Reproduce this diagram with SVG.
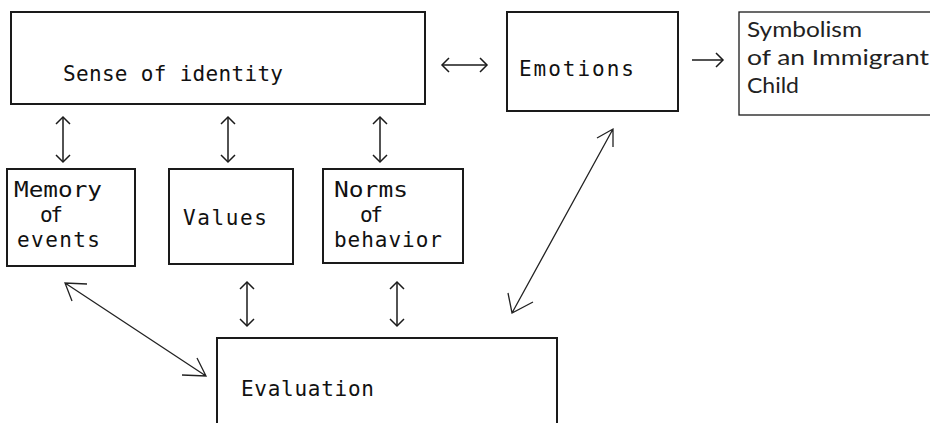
<svg xmlns="http://www.w3.org/2000/svg" width="930" height="423" viewBox="0 0 930 423">
<defs>
<style>
.box{fill:#fff;stroke:#1a1a1a;stroke-width:2}
.thin{fill:#fff;stroke:#1a1a1a;stroke-width:1.3}
.t{font-family:"DejaVu Sans Mono","Liberation Mono",monospace;font-size:21px;fill:#111}
.h{font-family:"Lato","Open Sans",sans-serif;font-size:21px;fill:#222}
.c{fill:none;stroke:#1a1a1a;stroke-width:1.5}
.d{fill:none;stroke:#222;stroke-width:1.3}
</style>
<marker id="ah" viewBox="-10 -10 20 20" markerWidth="20" markerHeight="20" markerUnits="userSpaceOnUse" refX="0" refY="0" orient="auto-start-reverse">
<path d="M-7,-7 L0,0 L-7,7" fill="none" stroke="#1a1a1a" stroke-width="1.5"/>
</marker>
</defs>
<rect width="930" height="423" fill="#fff"/>

<g id="sense">
<rect class="box" x="11" y="12" width="414" height="92"/>
<text class="t" x="63" y="81" textLength="220" lengthAdjust="spacing">Sense of identity</text>
</g>
<g id="emotions">
<rect class="box" x="507" y="12" width="171" height="99"/>
<text class="t" x="519" y="76" textLength="115" lengthAdjust="spacing">Emotions</text>
</g>
<g id="symbolism">
<rect class="thin" x="739" y="12" width="200" height="103"/>
<text class="h" x="747" y="37" textLength="115" lengthAdjust="spacingAndGlyphs">Symbolism</text>
<text class="h" x="747" y="65" textLength="182" lengthAdjust="spacingAndGlyphs">of an Immigrant</text>
<text class="h" x="747" y="93" textLength="52" lengthAdjust="spacingAndGlyphs">Child</text>
</g>
<g id="memory">
<rect class="box" x="7" y="169" width="128" height="97"/>
<text class="t" x="14" y="197" textLength="88" lengthAdjust="spacingAndGlyphs">Memory</text>
<text class="t" x="40" y="222" textLength="23" lengthAdjust="spacing">of</text>
<text class="t" x="17" y="247" textLength="83" lengthAdjust="spacing">events</text>
</g>
<g id="values">
<rect class="box" x="169" y="169" width="124" height="95"/>
<text class="t" x="183" y="225" textLength="84" lengthAdjust="spacing">Values</text>
</g>
<g id="norms">
<rect class="box" x="323" y="169" width="140" height="94"/>
<text class="t" x="334" y="197" textLength="74" lengthAdjust="spacingAndGlyphs">Norms</text>
<text class="t" x="360" y="222" textLength="23" lengthAdjust="spacing">of</text>
<text class="t" x="334" y="247" textLength="108" lengthAdjust="spacing">behavior</text>
</g>
<g id="evaluation">
<rect class="box" x="217" y="338" width="340" height="100"/>
<text class="t" x="241" y="396" textLength="133" lengthAdjust="spacing">Evaluation</text>
</g>

<g id="connectors">
<line class="c" x1="442" y1="65" x2="487" y2="65" marker-start="url(#ah)" marker-end="url(#ah)"/>
<line class="c" x1="692" y1="60" x2="723" y2="60" marker-end="url(#ah)"/>
<line class="c" x1="63" y1="117" x2="63" y2="162" marker-start="url(#ah)" marker-end="url(#ah)"/>
<line class="c" x1="228" y1="117" x2="228" y2="162" marker-start="url(#ah)" marker-end="url(#ah)"/>
<line class="c" x1="380" y1="117" x2="380" y2="162" marker-start="url(#ah)" marker-end="url(#ah)"/>
<line class="c" x1="247" y1="282" x2="247" y2="326" marker-start="url(#ah)" marker-end="url(#ah)"/>
<line class="c" x1="397" y1="282" x2="397" y2="326" marker-start="url(#ah)" marker-end="url(#ah)"/>
<path class="d" d="M65,283 L206,376 M87,284 L65,283 L72,301 M182,375 L206,376 L197,358"/>
<path class="d" d="M613,129 L512,313 M597,138 L613,129 L613,147 M508,293 L512,313 L533,302"/>
</g>
</svg>
